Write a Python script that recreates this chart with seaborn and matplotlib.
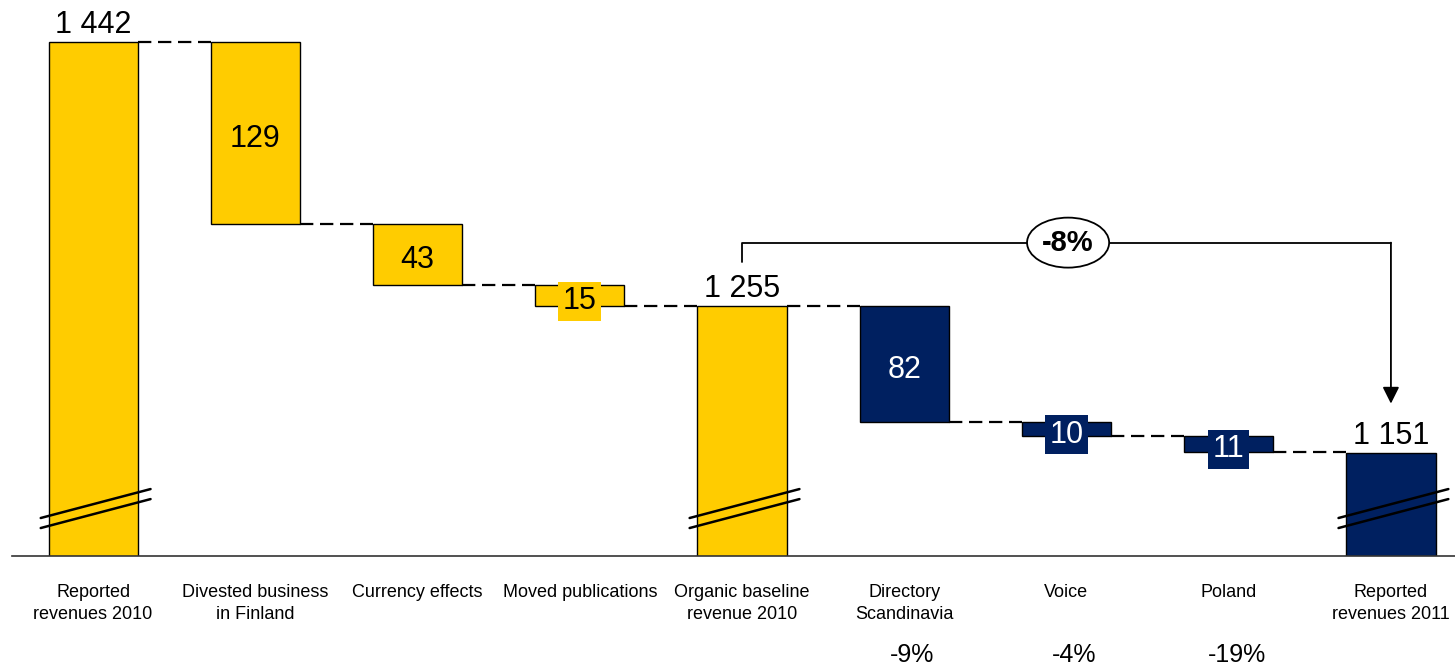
import pandas as pd
import seaborn as sns
import matplotlib.pyplot as plt
from matplotlib.patches import Ellipse

# Waterfall data (EUR m)
categories = ["Reported\nrevenues 2010", "Divested business\nin Finland", "Currency effects",
              "Moved publications", "Organic baseline\nrevenue 2010", "Directory\nScandinavia",
              "Voice", "Poland", "Reported\nrevenues 2011"]
values = [1442, -129, -43, -15, 1255, -82, -10, -11, 1151]
is_total = [True, False, False, False, True, False, False, False, True]
growth = ["", "", "", "", "", "-9%", "-4%", "-19%", ""]
total_change = "-8%"

yellow = "#FFCC00"
navy = "#002060"
bar_colors = [yellow] * 5 + [navy] * 4
text_colors = ["black"] * 5 + ["white"] * 4

# running levels for the floating bars
tops, bottoms, levels = [], [], []
level = 0
for v, tot in zip(values, is_total):
    if tot:
        level = v
        tops.append(v)
        bottoms.append(0)
    else:
        tops.append(level)
        level = level + v
        bottoms.append(level)
    levels.append(level)
heights = [t - b for t, b in zip(tops, bottoms)]

df = pd.DataFrame({"category": categories, "height": heights, "bottom": bottoms})

sns.set_style("white")
plt.rcParams["font.family"] = ["Liberation Sans", "DejaVu Sans"]
plt.rcParams["text.color"] = "black"
plt.rcParams["xtick.color"] = "black"

fig = plt.figure(figsize=(14.55, 6.65), dpi=100)
ax = fig.add_axes([12 / 1455, 109 / 665, 1443 / 1455, 556 / 665])

w = 0.55
sns.barplot(data=df, x="category", y="height", bottom=df["bottom"].values, width=w,
            color=yellow, saturation=1, edgecolor="black", linewidth=1.0,
            errorbar=None, ax=ax)
for p, c in zip(ax.patches, bar_colors):
    p.set_facecolor(c)

ymin, ymax = 1078.1, 1471.8
ax.set_ylim(ymin, ymax)
ax.set_xlim(-0.5, 8.395)

# dashed connectors
for i in range(len(values) - 1):
    ax.plot([i + w / 2, i + 1 - w / 2], [levels[i], levels[i]], color="black",
            lw=1.6, ls=(0, (6, 3)), zorder=1)

# value labels
for i, v in enumerate(values):
    if is_total[i]:
        ax.annotate(f"{v:,}".replace(",", " "), (i, tops[i]), xytext=(0, 6.5),
                    textcoords="offset points", ha="center", va="baseline", fontsize=22)
    else:
        mid = (tops[i] + bottoms[i]) / 2
        box = None
        if abs(v) < 20:
            box = dict(boxstyle="square,pad=0.15", fc=bar_colors[i], ec="none")
        ax.annotate(str(abs(v)), (i, mid), xytext=(0, -4), textcoords="offset points",
                    ha="center", va="center", fontsize=22, color=text_colors[i],
                    bbox=box, zorder=4)

# axis break marks on the total bars
for i, tot in enumerate(is_total):
    if tot:
        for d in (0, 7.1):
            ax.plot([i - 0.323, i + 0.354], [ymin + 26.9 - d, ymin + 47.4 - d],
                    color="black", lw=1.8, clip_on=False, zorder=4)

# organic change bracket
yb = 1300
ax.plot([4, 4, 8], [tops[4] + 31, yb, yb], color="black", lw=1.3, zorder=3)
ax.annotate("", xy=(8, tops[8] + 35), xytext=(8, yb),
            arrowprops=dict(arrowstyle="-|>", color="black", lw=1.3,
                            mutation_scale=25, shrinkA=0, shrinkB=0))
ax.add_patch(Ellipse((6.01, yb), 0.506, 35.4, fc="white", ec="black", lw=1.3, zorder=5))
ax.text(6.01, yb, total_change, ha="center", va="center", fontsize=21,
        fontweight="bold", zorder=6)

# growth rates below the labels
for i, g in enumerate(growth):
    if g:
        ax.text(i + 0.05, -0.178, g, transform=ax.get_xaxis_transform(),
                ha="center", va="center", fontsize=18)

ax.set_xticks(range(len(categories)))
ax.set_xticklabels(categories, fontsize=13, linespacing=1.4)
ax.tick_params(axis="x", length=0, pad=20)
ax.set_yticks([])
ax.set_xlabel("")
ax.set_ylabel("")
sns.despine(ax=ax, left=True)
ax.spines["bottom"].set_color("#333333")
ax.spines["bottom"].set_linewidth(1.2)

fig.savefig("out.png", dpi=100)
